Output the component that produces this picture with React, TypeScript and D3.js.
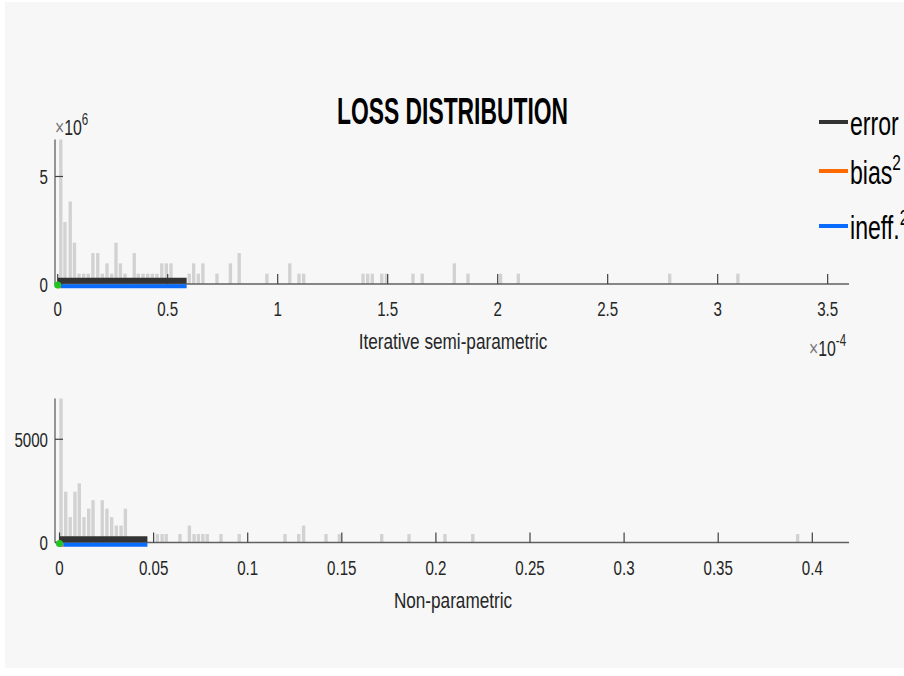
import React from 'react';
import * as d3 from 'd3';

// ---------- data (top panel: x in units of 1e-4) ----------
const topBinCenters = [0.014, 0.033, 0.057, 0.076, 0.097, 0.118, 0.139, 0.160, 0.182, 0.203, 0.224, 0.245, 0.265, 0.285, 0.306, 0.348, 0.366, 0.388, 0.409, 0.430, 0.451, 0.473, 0.494, 0.515, 0.598, 0.618, 0.639, 0.660, 0.724, 0.785, 0.825, 0.951, 1.055, 1.097, 1.118, 1.388, 1.409, 1.430, 1.473, 1.494, 1.615, 1.657, 1.803, 1.865, 2.013, 2.094, 2.782, 3.092];
const topDensity = [6720000, 2880000, 3840000, 1920000, 480000, 480000, 480000, 1440000, 1440000, 480000, 960000, 480000, 1920000, 960000, 480000, 1440000, 480000, 480000, 480000, 480000, 480000, 960000, 960000, 960000, 480000, 960000, 480000, 960000, 480000, 960000, 1440000, 480000, 960000, 480000, 480000, 480000, 480000, 480000, 480000, 480000, 480000, 480000, 960000, 480000, 480000, 480000, 480000, 480000];
const topBinWidth = 0.0212;
const topXTicks = [0, 0.5, 1, 1.5, 2, 2.5, 3, 3.5];
const topXTickLabels = ['0', '0.5', '1', '1.5', '2', '2.5', '3', '3.5'];
const topYTicks = [0, 5000000];
const topYTickLabels = ['0', '5'];
const topLoss = { error: 0.586, bias: 0.015, ineff: 0.571 };

// ---------- data (bottom panel) ----------
const botBinCenters = [0.0008, 0.0033, 0.0057, 0.0082, 0.0105, 0.0130, 0.0155, 0.0178, 0.0227, 0.0252, 0.0277, 0.0302, 0.0327, 0.0350, 0.0520, 0.0545, 0.0567, 0.0640, 0.0690, 0.0715, 0.0738, 0.0762, 0.0785, 0.0858, 0.0955, 0.1198, 0.1271, 0.1297, 0.1416, 0.1487, 0.1712, 0.1857, 0.2048, 0.2196, 0.3922];
const botDensity = [6970, 2460, 1230, 2460, 2870, 1230, 1640, 2050, 2050, 1640, 1230, 820, 820, 1640, 410, 410, 410, 410, 820, 410, 410, 410, 410, 410, 410, 410, 410, 820, 410, 410, 410, 410, 410, 410, 410];
const botBinWidth = 0.00248;
const botXTicks = [0, 0.05, 0.1, 0.15, 0.2, 0.25, 0.3, 0.35, 0.4];
const botXTickLabels = ['0', '0.05', '0.1', '0.15', '0.2', '0.25', '0.3', '0.35', '0.4'];
const botYTicks = [0, 5000];
const botYTickLabels = ['0', '5000'];
const botLoss = { error: 0.0467, bias: 0.002, ineff: 0.0447 };

const legendNames = ['error', 'bias', 'ineff.'];
const legendColors = ['#333333', '#ff6a00', '#0a6cff'];

const FONT = "'Liberation Sans', Arial, Helvetica, sans-serif";
const SX = 0.72;

function T({ x, y, size, anchor = 'start', weight = 'normal', sx = SX, fill = '#262626', children }: any) {
  return (
    <text transform={`translate(${x},${y}) scale(${sx},1)`} fontSize={size} textAnchor={anchor}
      fontWeight={weight} fill={fill} fontFamily={FONT}>{children}</text>
  );
}

function Panel({ centers, density, binW, xDomain, yMax, top, bottom, xTicks, xLabels, yTicks, yLabels, loss, label, labelY }: any) {
  const left = 55, right = 849;
  const x = d3.scaleLinear().domain(xDomain).range([left, right]);
  const y = d3.scaleLinear().domain([0, yMax]).range([bottom, top]);
  const bw = (x(binW) - x(0)) * 0.72;
  const base = y(0);
  return (
    <g>
      {centers.map((c: number, i: number) => (
        <rect key={i} x={x(c) - bw / 2} y={y(density[i])} width={bw} height={base - y(density[i])} fill="#d2d2d2" />
      ))}
      <line x1={left} x2={right} y1={base} y2={base} stroke="#606060" strokeWidth={1.3} />
      <line x1={left} x2={left} y1={base} y2={y(yMax)} stroke="#606060" strokeWidth={1.3} />
      {xTicks.map((t: number, i: number) => (
        <g key={i}>
          <line x1={x(t)} x2={x(t)} y1={base} y2={base - 10} stroke="#404040" strokeWidth={1.2} />
          <T x={x(t)} y={base + 32} size={21} anchor="middle">{xLabels[i]}</T>
        </g>
      ))}
      {yTicks.map((t: number, i: number) => (
        <g key={i}>
          <line x1={left} x2={left + 8} y1={y(t)} y2={y(t)} stroke="#404040" strokeWidth={1.2} />
          <T x={left - 7} y={y(t) + 7.5} size={21} anchor="end">{yLabels[i]}</T>
        </g>
      ))}
      <line x1={x(0)} x2={x(loss.error)} y1={base - 3.3} y2={base - 3.3} stroke={legendColors[0]} strokeWidth={6} />
      <line x1={x(0)} x2={x(loss.bias)} y1={base + 2.3} y2={base + 2.3} stroke={legendColors[1]} strokeWidth={4} />
      <line x1={x(loss.bias)} x2={x(loss.bias + loss.ineff)} y1={base + 2.3} y2={base + 2.3} stroke={legendColors[2]} strokeWidth={4} />
      <circle cx={x(0)} cy={base + 1} r={3.6} fill="#22c322" />
      <T x={(left + right) / 2 + 1} y={labelY} size={22} sx={0.78} anchor="middle">{label}</T>
    </g>
  );
}

export default function App() {
  return (
    <svg width={904} height={676} style={{ position: 'absolute', left: 0, top: 0, display: 'block' }}>
      <rect x={0} y={0} width={904} height={676} fill="#ffffff" />
      <rect x={5} y={2} width={899} height={666} fill="#f7f7f7" />
      <Panel centers={topBinCenters} density={topDensity} binW={topBinWidth} xDomain={[-0.0123, 3.597]}
        yMax={6720000} top={139.5} bottom={284} xTicks={topXTicks} xLabels={topXTickLabels}
        yTicks={topYTicks} yLabels={topYTickLabels} loss={topLoss} label="Iterative semi-parametric" labelY={349} />
      <Panel centers={botBinCenters} density={botDensity} binW={botBinWidth} xDomain={[-0.0024, 0.4195]}
        yMax={6970} top={398.6} bottom={542.5} xTicks={botXTicks} xLabels={botXTickLabels}
        yTicks={botYTicks} yLabels={botYTickLabels} loss={botLoss} label="Non-parametric" labelY={608} />
      <T x={55} y={135} size={22}><tspan fill="#777">{'\u00d7'}</tspan>10<tspan dy={-10} fontSize={16}>6</tspan></T>
      <T x={809} y={356} size={22}><tspan fill="#777">{'\u00d7'}</tspan>10<tspan dy={-10} fontSize={16}>-4</tspan></T>
      <T x={452.5} y={124} size={36} weight="bold" anchor="middle" sx={0.635} fill="#000">LOSS DISTRIBUTION</T>
      {legendNames.map((n, i) => {
        const ly = [122, 171, 226][i];
        return (
          <g key={n}>
            <line x1={819} x2={848} y1={ly} y2={ly} stroke={legendColors[i]} strokeWidth={4} />
            <T x={850} y={ly + 13} size={33} sx={0.7} fill="#000">
              {n}{i > 0 ? <tspan dy={-14} fontSize={22}>2</tspan> : null}
            </T>
          </g>
        );
      })}
    </svg>
  );
}
